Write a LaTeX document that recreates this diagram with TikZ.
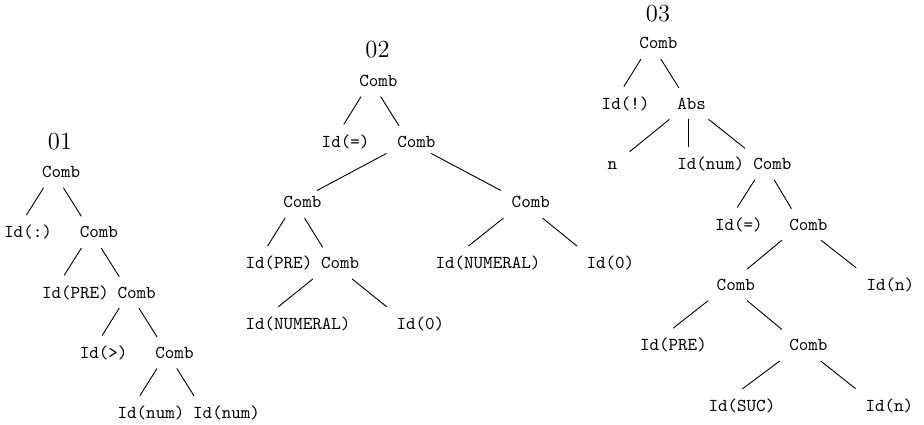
\documentclass[tikz,border=0pt]{standalone}
% Label box of fixed width: short labels are centred in it,
% long labels start at its left edge and run past its right edge.
\newcommand\treelbl[1]{\hbox to 12.65pt{\hfil#1\hss}}
\begin{document}
\begin{tikzpicture}[x=0.55pt,y=-0.55pt,
  tn/.style={inner xsep=5.775pt, inner ysep=5.3pt, anchor=base, font=\ttfamily},
  ttl/.style={inner sep=0pt, anchor=base, font=\fontsize{13.5}{16}\selectfont},
  branch/.style={line width=0.5pt}]
\useasboundingbox (0,0) rectangle (924,424);

% ---- tree 01 ----
\node[ttl] (t1) at (60,149.4) {01};
\node[tn] (a0) at (53.5,177.5)   {\treelbl{Comb}};
\node[tn] (a1) at (15.7,237.75)  {\treelbl{Id(:)}};
\node[tn] (a2) at (91.3,237.75)  {\treelbl{Comb}};
\node[tn] (a3) at (53.5,298)     {\treelbl{Id(PRE)}};
\node[tn] (a4) at (129.1,298)    {\treelbl{Comb}};
\node[tn] (a5) at (91.3,358.25)  {\treelbl{Id(>)}};
\node[tn] (a6) at (166.9,358.25) {\treelbl{Comb}};
\node[tn] (a7) at (129.1,418.5)  {\treelbl{Id(num)}};
\node[tn] (a8) at (204.7,418.5)  {\treelbl{Id(num)}};
\foreach \p/\c in {a0/a1,a0/a2,a2/a3,a2/a4,a4/a5,a4/a6,a6/a7,a6/a8}
  \draw[branch] (\p) -- (\c);

% ---- tree 02 ----
\node[ttl] (t2) at (377.5,57.9) {02};
\node[tn] (b0)  at (370.8,86.3)  {\treelbl{Comb}};
\node[tn] (b1)  at (333.2,147.1) {\treelbl{Id(=)}};
\node[tn] (b2)  at (408.8,147.1) {\treelbl{Comb}};
\node[tn] (b3)  at (294.8,207.9) {\treelbl{Comb}};
\node[tn] (b4)  at (523.2,207.9) {\treelbl{Comb}};
\node[tn] (b5)  at (257,268.7)   {\treelbl{Id(PRE)}};
\node[tn] (b6)  at (332.5,268.7) {\treelbl{Comb}};
\node[tn] (b7)  at (447,268.7)   {\treelbl{Id(NUMERAL)}};
\node[tn] (b8)  at (598,268.7)   {\treelbl{Id(0)}};
\node[tn] (b9)  at (257,329.5)   {\treelbl{Id(NUMERAL)}};
\node[tn] (b10) at (408,329.5)   {\treelbl{Id(0)}};
\foreach \p/\c in {b0/b1,b0/b2,b2/b3,b2/b4,b3/b5,b3/b6,b4/b7,b4/b8,b6/b9,b6/b10}
  \draw[branch] (\p) -- (\c);

% ---- tree 03 ----
\node[ttl] (t3) at (658,21.4) {03};
\node[tn] (c0)  at (650.8,48.8)  {\treelbl{Comb}};
\node[tn] (c1)  at (613.2,109.2) {\treelbl{Id(!)}};
\node[tn] (c2)  at (688.8,109.2) {\treelbl{Abs}};
\node[tn] (c3)  at (612.5,169.6) {\treelbl{n}};
\node[tn] (c4)  at (688.8,169.6) {\treelbl{Id(num)}};
\node[tn] (c5)  at (764.8,169.6) {\treelbl{Comb}};
\node[tn] (c6)  at (726.5,230)   {\treelbl{Id(=)}};
\node[tn] (c7)  at (800.8,230)   {\treelbl{Comb}};
\node[tn] (c8)  at (728.2,290.4) {\treelbl{Comb}};
\node[tn] (c9)  at (878,290.4)   {\treelbl{Id(n)}};
\node[tn] (c10) at (651.5,350.8) {\treelbl{Id(PRE)}};
\node[tn] (c11) at (800.8,350.8) {\treelbl{Comb}};
\node[tn] (c12) at (720,411.2)   {\treelbl{Id(SUC)}};
\node[tn] (c13) at (877,411.2)   {\treelbl{Id(n)}};
\foreach \p/\c in {c0/c1,c0/c2,c2/c3,c2/c4,c2/c5,c5/c6,c5/c7,c7/c8,c7/c9,c8/c10,c8/c11,c11/c12,c11/c13}
  \draw[branch] (\p) -- (\c);
\end{tikzpicture}
\end{document}
